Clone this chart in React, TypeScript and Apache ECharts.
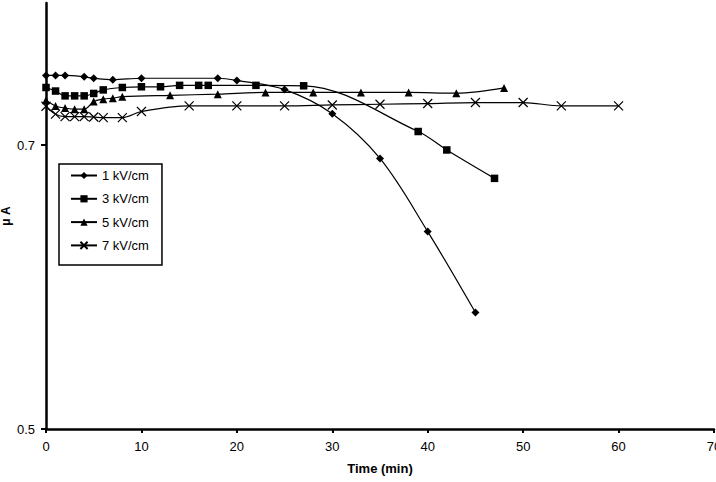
import React, { useEffect, useRef } from "react";
import * as echarts from "echarts";

// Time axis (min) and measured current (µA) for each field strength
const t1 = [0, 1, 2, 4, 5, 7, 10, 18, 20, 25, 30, 35, 40, 45];
const i1 = [0.749, 0.749, 0.749, 0.748, 0.747, 0.746, 0.747, 0.747, 0.7455, 0.739, 0.722, 0.6905, 0.639, 0.582];

const t3 = [0, 1, 2, 3, 4, 5, 6, 8, 10, 12, 14, 16, 17, 22, 27, 39, 42, 47];
const i3 = [0.7405, 0.738, 0.7346, 0.7346, 0.7346, 0.7363, 0.7388, 0.7405, 0.741, 0.741, 0.742, 0.742, 0.742, 0.742, 0.7417, 0.7095, 0.6965, 0.6765];

const t5 = [0, 1, 2, 3, 4, 5, 6, 7, 8, 13, 18, 23, 28, 33, 38, 43, 48];
const i5 = [0.7316, 0.7275, 0.726, 0.7252, 0.7252, 0.7306, 0.7323, 0.733, 0.734, 0.735, 0.7358, 0.737, 0.737, 0.737, 0.737, 0.7365, 0.7402];

const t7 = [0, 1, 2, 3, 4, 5, 6, 8, 10, 15, 20, 25, 30, 35, 40, 45, 50, 54, 60];
const i7 = [0.7273, 0.7217, 0.72, 0.72, 0.72, 0.7197, 0.7193, 0.7193, 0.7236, 0.7275, 0.7275, 0.7275, 0.7282, 0.7287, 0.7292, 0.7299, 0.7299, 0.7275, 0.7275];

const seriesNames = ["1 kV/cm", "3 kV/cm", "5 kV/cm", "7 kV/cm"];
const yTicks = [0.5, 0.7];

const FONT = "'Liberation Sans', Arial, sans-serif";
const CROSS = "path://M0,0L10,10M10,0L0,10";

function pairs(xs: number[], ys: number[]) {
  return xs.map((x, k) => [x, ys[k]]);
}

export default function App() {
  const ref = useRef<HTMLDivElement>(null);

  useEffect(() => {
    if (!ref.current) return;
    const chart = echarts.init(ref.current, undefined, { renderer: "svg" });

    const base = {
      type: "line" as const,
      smooth: 0.35,
      lineStyle: { color: "#000", width: 1.2 },
      itemStyle: { color: "#000" },
      emphasis: { disabled: true },
    };

    chart.setOption({
      animation: false,
      backgroundColor: "#fff",
      textStyle: { fontFamily: FONT },
      grid: {
        left: 46,
        right: 2,
        top: 3,
        bottom: 53,
        containLabel: false,
        outerBoundsMode: "none",
      },
      legend: {
        orient: "vertical",
        left: 59,
        top: 164,
        padding: [5, 13, 13, 11],
        itemGap: 10.3,
        itemWidth: 26,
        itemHeight: 9,
        borderColor: "#000",
        borderWidth: 1.5,
        backgroundColor: "#fff",
        textStyle: { fontFamily: FONT, fontSize: 13, color: "#000" },
        data: seriesNames,
      },
      xAxis: {
        type: "value",
        min: 0,
        max: 70,
        interval: 10,
        name: "Time (min)",
        nameLocation: "middle",
        nameGap: 33,
        nameMoveOverlap: false,
        nameTextStyle: { fontFamily: FONT, fontSize: 13, fontWeight: "bold", color: "#000" },
        axisLine: { show: true, onZero: false, lineStyle: { color: "#000", width: 2.5 } },
        axisTick: { show: true, length: 4, lineStyle: { color: "#000", width: 2 } },
        axisLabel: { fontFamily: FONT, fontSize: 13, color: "#000", margin: 11, showMaxLabel: true, hideOverlap: false },
        splitLine: { show: false },
      },
      yAxis: {
        type: "value",
        min: 0.5,
        max: 0.8,
        name: "μ A",
        nameLocation: "middle",
        nameGap: 34,
        nameMoveOverlap: false,
        nameRotate: 90,
        nameTextStyle: { fontFamily: FONT, fontSize: 12, fontWeight: "bold", color: "#000" },
        axisLine: { show: true, lineStyle: { color: "#000", width: 2.5 } },
        axisTick: { show: true, length: 5, customValues: yTicks, lineStyle: { color: "#000", width: 2 } },
        axisLabel: {
          fontFamily: FONT,
          fontSize: 13,
          color: "#000",
          margin: 11,
          customValues: yTicks,
          formatter: (v: number) => v.toFixed(1),
        },
        splitLine: { show: false },
      },
      series: [
        { ...base, name: seriesNames[0], symbol: "diamond", symbolSize: 8, data: pairs(t1, i1) },
        { ...base, name: seriesNames[1], symbol: "rect", symbolSize: 7.5, data: pairs(t3, i3) },
        { ...base, name: seriesNames[2], symbol: "triangle", symbolSize: 8, data: pairs(t5, i5) },
        {
          ...base,
          name: seriesNames[3],
          symbol: CROSS,
          symbolSize: 9,
          itemStyle: { color: "transparent", borderColor: "#000", borderWidth: 1.2 },
          data: pairs(t7, i7),
        },
      ],
    });

    return () => chart.dispose();
  }, []);

  return (
    <div
      ref={ref}
      style={{ position: "absolute", left: 0, top: 0, width: 716, height: 482, background: "#fff" }}
    />
  );
}
